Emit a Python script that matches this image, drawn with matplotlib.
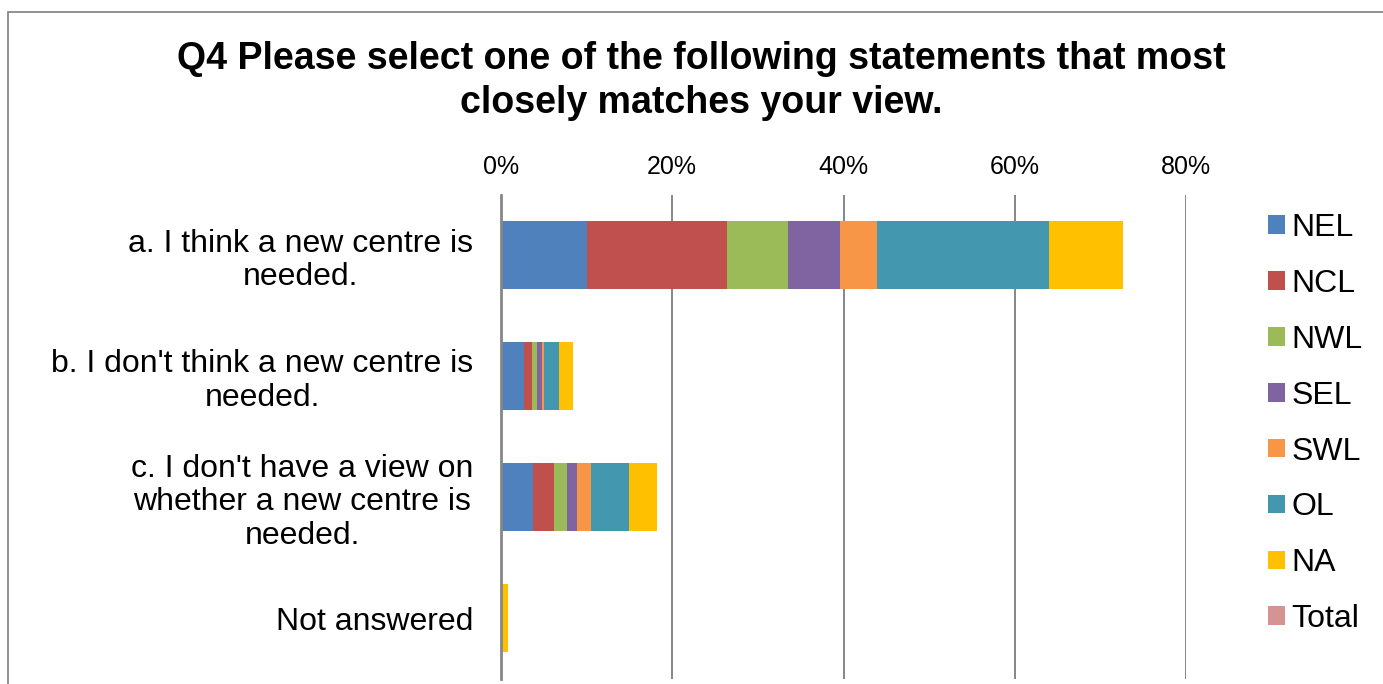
import matplotlib
matplotlib.use("Agg")
import matplotlib.pyplot as plt
from matplotlib.patches import Rectangle
from matplotlib.ticker import PercentFormatter
import numpy as np

plt.rcParams['font.family'] = ['Liberation Sans', 'DejaVu Sans']

categories = ["a. I think a new centre is\nneeded.",
              "b. I don't think a new centre is\nneeded.",
              "c. I don't have a view on\nwhether a new centre is\nneeded.",
              "Not answered"]
series_names = ["NEL", "NCL", "NWL", "SEL", "SWL", "OL", "NA", "Total"]
NEL = [10.0, 2.7, 3.7, 0.0]
NCL = [16.4, 0.9, 2.45, 0.0]
NWL = [7.1, 0.65, 1.5, 0.0]
SEL = [6.1, 0.5, 1.2, 0.0]
SWL = [4.3, 0.3, 1.65, 0.0]
OL = [20.1, 1.7, 4.5, 0.0]
NA = [8.6, 1.65, 3.2, 0.85]
Total = [0.0, 0.0, 0.0, 0.0]
values = [NEL, NCL, NWL, SEL, SWL, OL, NA, Total]
colors = ["#4F81BD", "#C0504D", "#9BBB59", "#8064A2", "#F79646", "#4397AF", "#FFC000", "#D59392"]
xticks = [0, 20, 40, 60, 80]

fig = plt.figure(figsize=(13.83, 6.84), dpi=100)
ax = fig.add_axes([501/1383, 5.5/684, (1186-501)/1383, (678.5-194.5)/684])

y = np.arange(len(categories))
left = np.zeros(len(categories))
for name, vals, c in zip(series_names, values, colors):
    ax.barh(y, vals, left=left, height=0.57, color=c, label=name, zorder=3)
    left += np.array(vals)

ax.set_ylim(len(categories) - 0.5, -0.5)
ax.set_xlim(0, 80)
ax.set_xticks(xticks)
ax.xaxis.set_major_formatter(PercentFormatter(decimals=0))
ax.xaxis.tick_top()
ax.tick_params(axis='x', length=0, pad=11, labelsize=18, labelcolor='black')
ax.set_yticks(y)
ax.set_yticklabels(categories, fontsize=23, linespacing=1.17)
ax.tick_params(axis='y', length=0, pad=20)
for lbl in ax.get_yticklabels():
    lbl.set_multialignment('center')
ax.grid(axis='x', color='#868686', linewidth=1.4, zorder=0)
for s in ['top', 'right', 'bottom']:
    ax.spines[s].set_visible(False)
ax.spines['left'].set_color('#868686')
ax.spines['left'].set_linewidth(2)
ax.spines['left'].set_zorder(4)

leg = ax.legend(loc='upper left', bbox_to_anchor=(1268/1383, 1 - 213/684),
                bbox_transform=fig.transFigure, frameon=False, fontsize=23,
                handlelength=0.52, handleheight=0.52, handletextpad=0.22,
                labelspacing=0.81, borderaxespad=0, borderpad=0)

fig.suptitle("Q4 Please select one of the following statements that most\nclosely matches your view.",
             x=701/1383, y=1 - 41/684, va='top', fontsize=27, fontweight='bold', linespacing=1.3)

fig.add_artist(Rectangle((8/1383, -0.1), 1.2, 1 - 12/684 + 0.1, transform=fig.transFigure,
                         fill=False, edgecolor='#898989', linewidth=1.3, zorder=0))

fig.savefig("out.png", dpi=100)
